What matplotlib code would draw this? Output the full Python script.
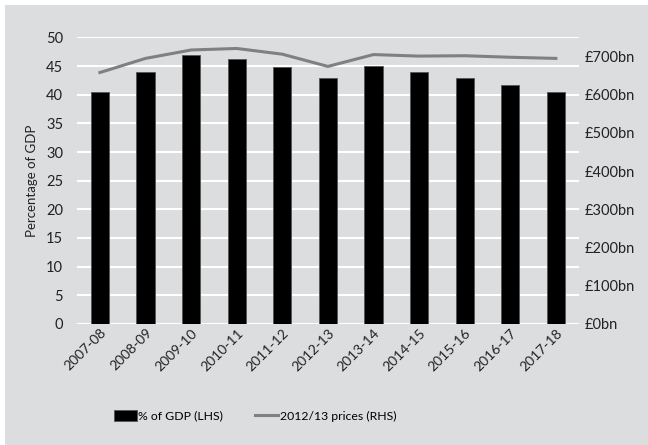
import numpy as np
import matplotlib.pyplot as plt

# Spending by year: share of GDP (bars, left axis) and real terms (line, right axis)
years = ['2007-08', '2008-09', '2009-10', '2010-11', '2011-12', '2012-13',
         '2013-14', '2014-15', '2015-16', '2016-17', '2017-18']
pct_gdp = [40.4, 44.0, 46.9, 46.2, 44.9, 42.9, 45.0, 44.0, 42.9, 41.7, 40.4]
real_bn = [658, 695, 717, 721, 706, 674, 705, 701, 702, 698, 695]

left_ticks = [0, 5, 10, 15, 20, 25, 30, 35, 40, 45, 50]
right_ticks = [0, 100, 200, 300, 400, 500, 600, 700]

bg = '#dcdddf'
plt.rcParams['font.family'] = ['Lato', 'DejaVu Sans']
plt.rcParams['font.size'] = 9.5

fig = plt.figure(figsize=(6.48, 4.45), dpi=100)
fig.patch.set_facecolor('white')
# grey panel with a small white margin on the top and left
fig.patches.append(plt.Rectangle((5 / 648, 0), 1, 1 - 5 / 445, transform=fig.transFigure,
                                 facecolor=bg, edgecolor='none', zorder=-10))

ax = fig.add_axes([0.119, 0.272, 0.774, 0.644])
ax.set_facecolor(bg)
x = np.arange(len(years))
bars = ax.bar(x, pct_gdp, width=0.4, color='black', edgecolor='#555555', linewidth=0.6,
              label='% of GDP (LHS)', zorder=3)
ax.set_xlim(-0.5, len(years) - 0.5)
ax.set_ylim(0, 50)
ax.set_yticks(left_ticks)
ax.yaxis.grid(True, color='white', linewidth=1.5, zorder=0)
ax.set_axisbelow(True)
for s in ax.spines.values():
    s.set_visible(False)
ax.tick_params(axis='y', length=0, pad=10, labelsize=10.5, colors='#222222')
ax.tick_params(axis='x', length=0, pad=2, labelsize=10, colors='#222222')
ax.set_xticks(x)
ax.set_xticklabels(years, rotation=45, ha='right', rotation_mode='anchor')
ax.set_ylabel('Percentage of GDP', fontsize=9.5, color='#222222', labelpad=6)

ax2 = ax.twinx()
line, = ax2.plot(x, real_bn, color='#808080', linewidth=2.2, label='2012/13 prices (RHS)', zorder=4)
ax2.set_ylim(0, 750)
ax2.set_yticks(right_ticks)
ax2.set_yticklabels([f'£{v}bn' for v in right_ticks])
ax2.tick_params(axis='y', length=0, pad=4, labelsize=10.5, colors='#222222')
for s in ax2.spines.values():
    s.set_visible(False)

fig.legend([bars, line], ['% of GDP (LHS)', '2012/13 prices (RHS)'], ncol=2,
           loc='center', bbox_to_anchor=(255 / 648, 1 - 416 / 445), frameon=False,
           fontsize=8.8, handlelength=1.9, handletextpad=0.1, columnspacing=2.6,
           handleheight=0.9)

fig.savefig('out.png', dpi=100, facecolor=fig.get_facecolor())
